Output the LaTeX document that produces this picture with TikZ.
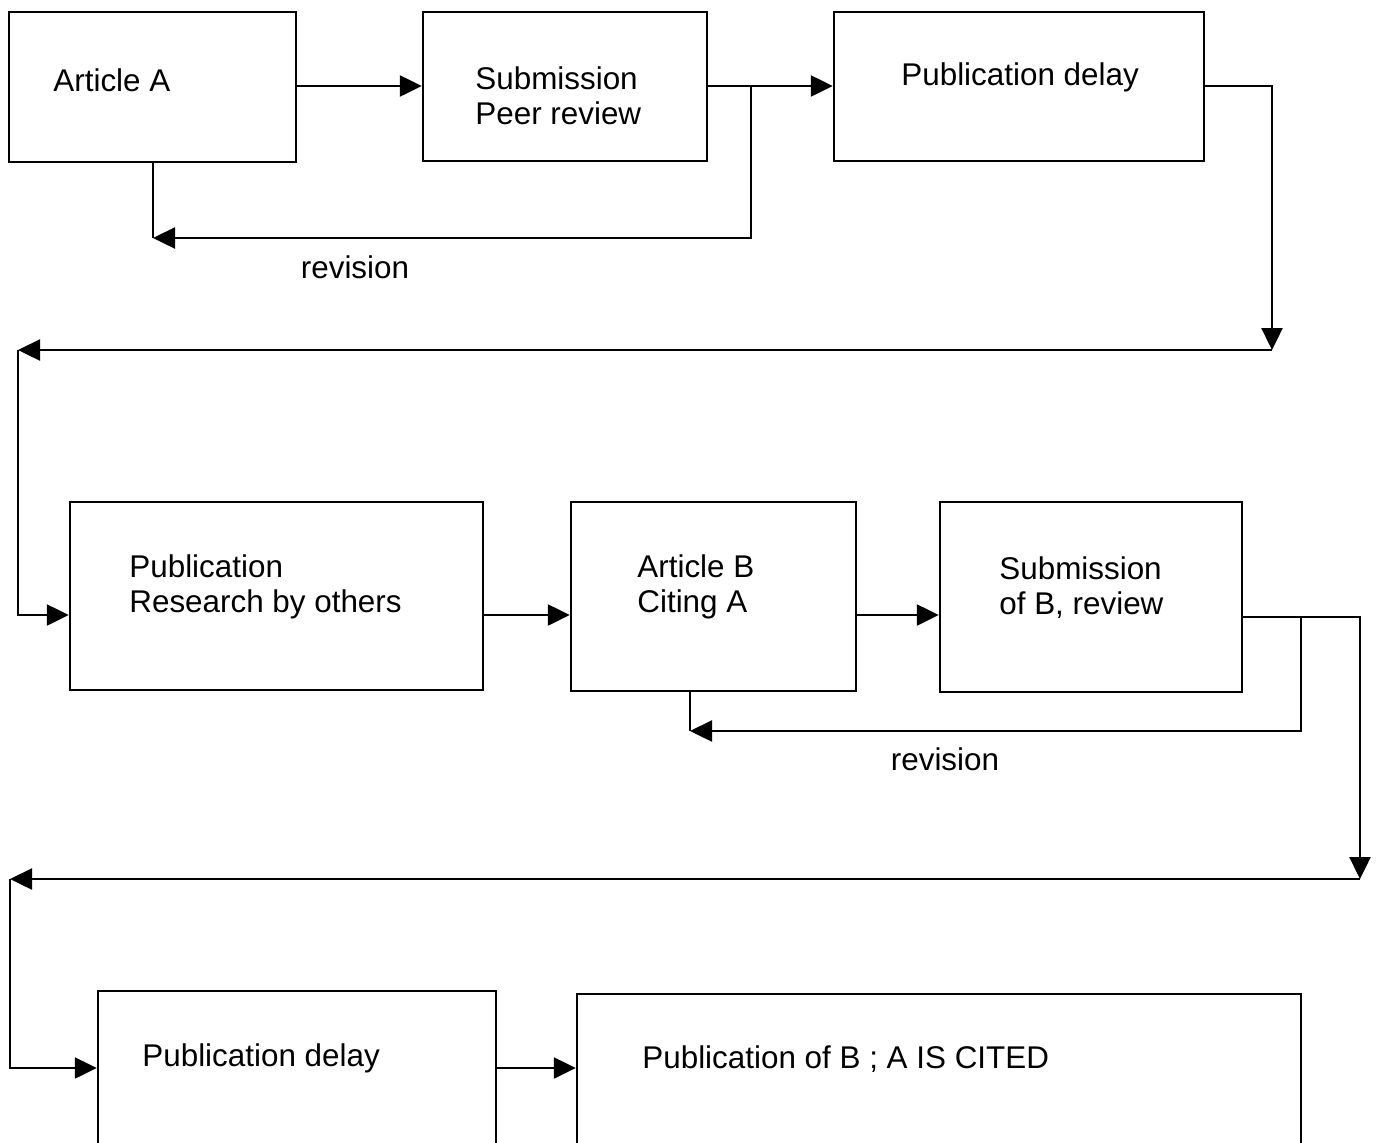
\documentclass[tikz,border=0pt]{standalone}
\usepackage{fontspec}
\setmainfont{Liberation Sans}
\usepackage{tikz}
\usetikzlibrary{arrows.meta,fit}

\begin{document}
\begin{tikzpicture}[x=0.5pt, y=-0.5pt,
		box/.style={draw, line width=1.2pt, inner sep=0pt, fit={#1}},
		arr/.style={line width=1.2pt, -{Triangle[length=11pt,width=10.5pt]}},
		con/.style={line width=1.2pt},
		lbl/.style={inner sep=0pt, anchor=west, align=left, font=\fontsize{15.7}{17.6}\selectfont},
		rev/.style={inner sep=0pt, font=\fontsize{15.7}{17.6}\selectfont}]
		%%%%% START %%%%%
		
		\useasboundingbox (0, 0) rectangle (1377, 1142);
		\clip (0, 0) rectangle (1377, 1142);
		
		\node[box={(9, 12) (296, 162)}] (artA) {};
		\node[box={(423, 12) (707, 161)}] (subA) {};
		\node[box={(834, 12) (1204, 161)}] (delA) {};
		
		\node[lbl] (tartA) at (53, 80) {Article A};
		\node[lbl] (tsubA) at (475, 95.5) {Submission\\Peer review};
		\node[lbl] (tdelA) at (901, 77) {Publication delay};
		
		\coordinate (r1) at (0, 86);
		\coordinate (brA) at (751, 86);
		\coordinate (revA) at (153, 238);
		\coordinate (dropA) at (1272, 350);
		\coordinate (backA) at (18, 350);
		
		\draw[arr] (artA.east |- r1) -- (subA.west |- r1);
		\draw[arr] (subA.east |- r1) -- (delA.west |- r1);
		\draw[con] (artA.south -| revA) -- (revA);
		\draw[arr] (brA) |- (revA);
		\node[rev] (trevA) at (355, 267) {revision};
		
		\draw[arr] (delA.east |- r1) -| (dropA);
		\draw[arr] (dropA) -- (backA);
		
		\node[box={(70, 502) (483, 690)}] (pubR) {};
		\node[box={(571, 502) (856, 691)}] (artB) {};
		\node[box={(940, 502) (1242, 692)}] (subB) {};
		
		\node[lbl] (tpubR) at (129, 586.5) {Publication\\Research by others};
		\node[lbl] (tartB) at (637, 586.5) {Article B\\Citing A};
		\node[lbl] (tsubB) at (999, 588) {Submission\\of B, review};
		
		\coordinate (r2) at (0, 615);
		\coordinate (r2b) at (0, 617);
		\coordinate (brB) at (1301, 617);
		\coordinate (revB) at (690, 731);
		\coordinate (dropB) at (1360, 879);
		\coordinate (backB) at (10, 879);
		
		\draw[arr] (backA) |- (pubR.west |- r2);
		\draw[arr] (pubR.east |- r2) -- (artB.west |- r2);
		\draw[arr] (artB.east |- r2) -- (subB.west |- r2);
		\draw[con] (artB.south -| revB) -- (revB);
		\draw[arr] (brB) |- (revB);
		\node[rev] (trevB) at (945, 759) {revision};
		
		\draw[arr] (subB.east |- r2b) -| (dropB);
		\draw[arr] (dropB) -- (backB);
		
		\node[box={(98, 991) (496, 1170)}] (delB) {};
		\node[box={(577, 994) (1301, 1170)}] (pubB) {};
		
		\node[lbl] (tdelB) at (142, 1058) {Publication delay};
		\node[lbl] (tpubB) at (642, 1059) {Publication of B ; A IS CITED};
		
		\coordinate (r3) at (0, 1068);
		
		\draw[arr] (backB) |- (delB.west |- r3);
		\draw[arr] (delB.east |- r3) -- (pubB.west |- r3);
		
		%%%%% END %%%%%
	\end{tikzpicture}
\end{document}
